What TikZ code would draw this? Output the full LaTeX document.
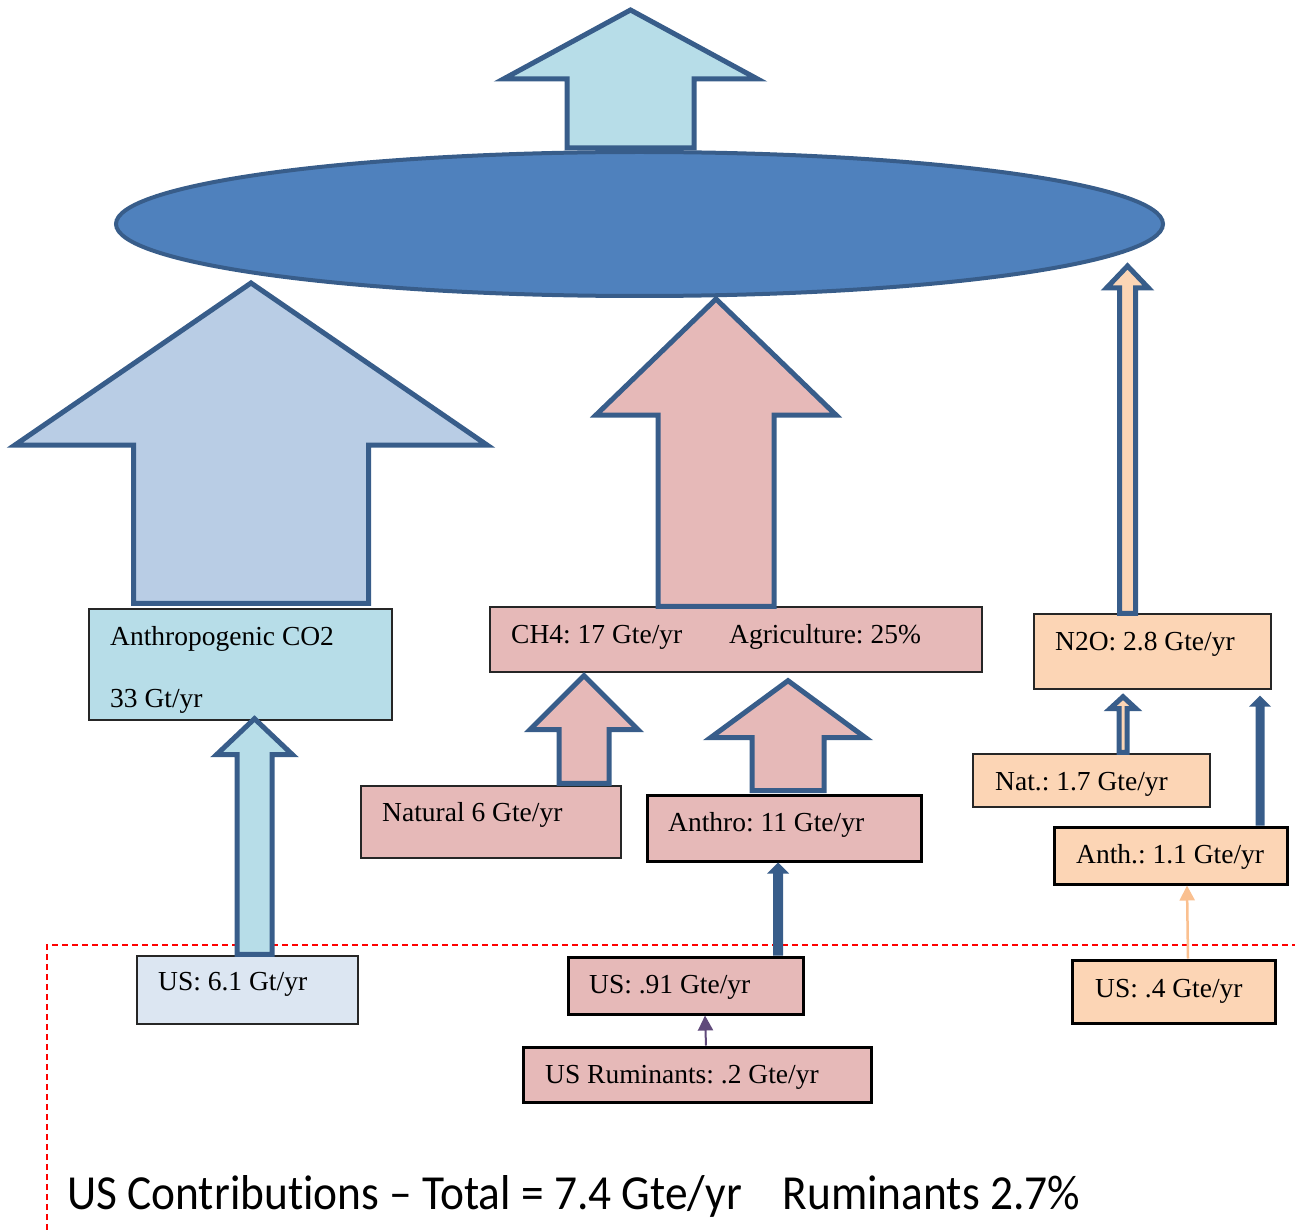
\documentclass[tikz,border=0pt]{standalone}
\usepackage{fontspec}
\usepackage{graphicx}
\setmainfont{Liberation Serif}
\newfontfamily\carl{Carlito}[Ligatures={NoCommon}]
\usetikzlibrary{calc,arrows.meta,shapes.geometric}
\definecolor{ellfill}{HTML}{4F81BD}
\definecolor{edgeblue}{HTML}{385D8A}
\definecolor{ltblue}{HTML}{B7DDE8}
\definecolor{co2blue}{HTML}{B9CDE5}
\definecolor{usblue}{HTML}{DCE6F2}
\definecolor{pink}{HTML}{E6B9B8}
\definecolor{peach}{HTML}{FCD5B5}
\definecolor{peachline}{HTML}{FAC090}
\definecolor{purp}{HTML}{604A7B}
\definecolor{boxedge}{HTML}{262626}
\frenchspacing
% block arrow pointing up: style, base point, tip point, shaft half, head half, head length
\newcommand\blockup[6]{%
  \draw[#1] let \p1=#2, \p2=#3 in
    (\x1-#4,\y1) -- (\x1-#4,\y2-#6) -- (\x1-#5,\y2-#6) -- (\x1,\y2)
    -- (\x1+#5,\y2-#6) -- (\x1+#4,\y2-#6) -- (\x1+#4,\y1) -- cycle;}
\begin{document}
\begin{tikzpicture}[x=1pt,y=-1pt,
  thinbox/.style={draw=boxedge,line width=1.4pt,rectangle,inner sep=0pt},
  thickbox/.style={draw=black,line width=3pt,rectangle,inner sep=0pt},
  txt/.style={anchor=base west,inner sep=0pt,font=\fontsize{27.5}{30}\selectfont},
  blk/.style={draw=edgeblue,line width=5pt,miter limit=10},
  darkarrow/.style={fill=edgeblue,draw=none},
  redline/.style={draw=red,line width=1.3pt,dash pattern=on 6pt off 4pt}]
\useasboundingbox (0,0) rectangle (1295,1230);

% dashed US region
\coordinate (dA) at (47,1230);
\coordinate (dB) at (47,945);
\coordinate (dC) at (1295,945);
\draw[redline] (dA) -- (dB) -- (dC);

% ellipse
\node[ellipse,draw=edgeblue,fill=ellfill,line width=4pt,minimum width=1047pt,minimum height=144pt,inner sep=0pt] (ell) at (639.5,224) {};

% boxes
\node[thinbox,fill=ltblue,minimum width=303pt,minimum height=111pt] (co2box) at (240.5,664.5) {};
\node[thinbox,fill=usblue,minimum width=221pt,minimum height=68pt] (us61) at (247.5,990) {};
\node[thinbox,fill=pink,minimum width=492pt,minimum height=65pt] (ch4) at (736,639.5) {};
\node[thinbox,fill=pink,minimum width=260pt,minimum height=72pt] (nat6) at (491,822) {};
\node[thickbox,fill=pink,minimum width=274pt,minimum height=66pt] (anthro) at (784,828) {};
\node[thickbox,fill=pink,minimum width=235pt,minimum height=57pt] (us91) at (685.5,985.5) {};
\node[thickbox,fill=pink,minimum width=348pt,minimum height=55pt] (usrum) at (697,1074.5) {};
\node[thinbox,fill=peach,minimum width=237pt,minimum height=75pt] (n2o) at (1152.5,651.5) {};
\node[thinbox,fill=peach,minimum width=237pt,minimum height=53pt] (nat17) at (1091.5,780.5) {};
\node[thickbox,fill=peach,minimum width=233pt,minimum height=57pt] (anth11) at (1170.5,855.5) {};
\node[thickbox,fill=peach,minimum width=203pt,minimum height=63pt] (us4) at (1173.5,991.5) {};

% top arrow leaving the ellipse
\coordinate (toptip) at (630.5,10);
\blockup{blk,fill=ltblue}{([xshift=-9pt,yshift=2pt]ell.north)}{(toptip)}{63.5pt}{127pt}{69pt}

% CO2 arrows
\blockup{blk,fill=co2blue}{([xshift=10.5pt,yshift=5pt]co2box.north)}{([yshift=15pt]ell.south)}{117.5pt}{236pt}{162pt}
\blockup{blk,fill=ltblue}{([xshift=7pt,yshift=1pt]us61.north)}{([yshift=2pt]co2box.south)}{17.5pt}{38pt}{36pt}

% CH4 arrows
\blockup{blk,fill=pink}{([xshift=-20pt]ch4.north)}{([yshift=-1pt]ell.south)}{58pt}{120pt}{116pt}
\blockup{blk,fill=pink}{([xshift=93pt,yshift=2pt]nat6.north)}{([yshift=-3pt]ch4.south)}{25pt}{54pt}{54pt}
\blockup{blk,fill=pink}{([xshift=4pt,yshift=3pt]anthro.north)}{([yshift=-8pt]ch4.south)}{36pt}{77.5pt}{57pt}
\blockup{darkarrow}{([xshift=92.5pt]us91.north)}{(anthro.south)}{5pt}{11pt}{11pt}
\draw[purp,line width=2pt,-{Triangle[length=15pt,width=15pt]}] ([xshift=9pt]usrum.north) -- ([xshift=19.5pt]us91.south);

% N2O arrows
\blockup{blk,fill=peach}{([xshift=-25pt]n2o.north)}{([yshift=32pt]ell.south)}{8pt}{21pt}{22pt}
\blockup{blk,fill=peach}{([xshift=31.5pt,yshift=1pt]nat17.north)}{([yshift=-7pt]n2o.south)}{4pt}{13pt}{12pt}
\blockup{darkarrow}{([xshift=89.5pt]anth11.north)}{([yshift=-6pt]n2o.south)}{4.5pt}{11pt}{11pt}
\draw[peachline,line width=2.5pt,-{Triangle[length=15pt,width=15pt]}] ([xshift=14.5pt]us4.north) -- ([xshift=16.5pt]anth11.south);

% texts
\node[txt] (tco2a) at (110,645) {Anthropogenic CO2};
\node[txt] (tco2b) at (110,707) {33 Gt/yr};
\node[txt] (tus61) at (158,990) {US: 6.1 Gt/yr};
\node[txt] (tch4) at (511,643) {CH4: 17 Gte/yr};
\node[txt] (tagr) at (729,643) {Agriculture: 25\%};
\node[txt] (tnat6) at (382,821) {Natural 6 Gte/yr};
\node[txt] (tanthro) at (668,831) {Anthro: 11 Gte/yr};
\node[txt] (tus91) at (589,993) {US: .91 Gte/yr};
\node[txt] (trum) at (545,1083) {US Ruminants: .2 Gte/yr};
\node[txt] (tn2o) at (1055,650) {N2O: 2.8 Gte/yr};
\node[txt] (tnat17) at (995,790) {Nat.: 1.7 Gte/yr};
\node[txt] (tanth11) at (1076,863) {Anth.: 1.1 Gte/yr};
\node[txt] (tus4) at (1095,997) {US: .4 Gte/yr};

\node[anchor=base west,inner sep=0pt] (total) at (67,1209)
  {\resizebox{1013pt}{34pt}{\carl\fontsize{50}{60}\selectfont US Contributions – Total = 7.4 Gte/yr\hspace{0.9em}Ruminants 2.7\%}};
\end{tikzpicture}
\end{document}
